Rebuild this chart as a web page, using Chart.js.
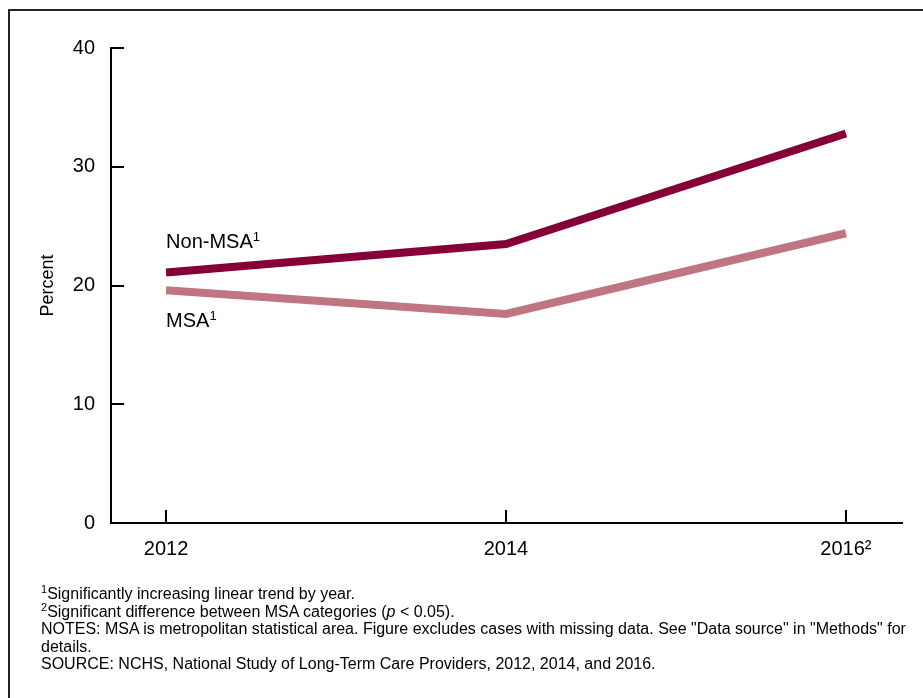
<!DOCTYPE html>
<html>
<head>
<meta charset="utf-8">
<script src="https://cdn.jsdelivr.net/npm/chart.js@4"></script>
<style>
  body { margin: 0; background: #fff; font-family: "Liberation Sans", Arial, sans-serif; }
  #frame { position: absolute; left: 8px; top: 9px; width: 940px; height: 720px;
           border-left: 2px solid #222; border-top: 2px solid #222; }
  #wrap { position: absolute; left: 0; top: 0; width: 923px; height: 698px; }
  #notes { position: absolute; left: 41px; top: 585px; font-size: 16px; line-height: 17.5px; color: #000; }
  #notes sup { font-size: 11px; line-height: 0; }
</style>
</head>
<body>
<div id="frame"></div>
<div id="wrap"><canvas id="lineChart" width="923" height="698"></canvas></div>
<div id="notes">
  <div><sup>1</sup>Significantly increasing linear trend by year.</div>
  <div><sup>2</sup>Significant difference between MSA categories (<i>p</i> &lt; 0.05).</div>
  <div>NOTES: MSA is metropolitan statistical area. Figure excludes cases with missing data. See "Data source" in "Methods" for<br>details.</div>
  <div>SOURCE: NCHS, National Study of Long-Term Care Providers, 2012, 2014, and 2016.</div>
</div>
<script>
const years = [2012, 2014, 2016];
const yearLabels = ["2012", "2014", "2016\u00B2"];
const nonMsa = [21.1, 23.5, 32.8];
const msa = [19.6, 17.6, 24.4];
const yTicks = [0, 10, 20, 30, 40];

const FONT = '"Liberation Sans", Arial, sans-serif';

// tick marks point into the plot, so they are drawn by hand
const innerTicks = {
  id: 'innerTicks',
  beforeDatasetsDraw(chart) {
    const ctx = chart.ctx, x = chart.scales.x, y = chart.scales.y;
    const len = 13;
    ctx.save();
    ctx.strokeStyle = '#000';
    ctx.lineWidth = 2;
    ctx.beginPath();
    years.forEach(v => {
      const px = Math.round(x.getPixelForValue(v));
      ctx.moveTo(px, y.bottom);
      ctx.lineTo(px, y.bottom - len);
    });
    yTicks.forEach(v => {
      if (v === 0) return;
      const py = Math.round(y.getPixelForValue(v));
      ctx.moveTo(x.left, py);
      ctx.lineTo(x.left + len, py);
    });
    ctx.stroke();
    ctx.restore();
  }
};

// series names next to the first point of each line
const seriesLabels = {
  id: 'seriesLabels',
  afterDatasetsDraw(chart) {
    const ctx = chart.ctx, x = chart.scales.x, y = chart.scales.y;
    const px = x.getPixelForValue(years[0]);
    const items = [
      { text: 'Non-MSA', sup: '1', base: y.getPixelForValue(nonMsa[0]) - 24 },
      { text: 'MSA', sup: '1', base: y.getPixelForValue(msa[0]) + 37 }
    ];
    ctx.save();
    ctx.fillStyle = '#000';
    ctx.textBaseline = 'alphabetic';
    items.forEach(it => {
      ctx.font = '20px ' + FONT;
      ctx.fillText(it.text, px, it.base);
      const w = ctx.measureText(it.text).width;
      ctx.font = '13px ' + FONT;
      ctx.fillText(it.sup, px + w, it.base - 7);
    });
    ctx.restore();
  }
};

new Chart(document.getElementById('lineChart'), {
  type: 'line',
  data: {
    datasets: [
      {
        label: 'Non-MSA',
        data: years.map((v, i) => ({ x: v, y: nonMsa[i] })),
        borderColor: '#860038',
        borderWidth: 8,
        pointRadius: 0,
        borderCapStyle: 'butt',
        borderJoinStyle: 'miter'
      },
      {
        label: 'MSA',
        data: years.map((v, i) => ({ x: v, y: msa[i] })),
        borderColor: '#C07682',
        borderWidth: 8,
        pointRadius: 0,
        borderCapStyle: 'butt',
        borderJoinStyle: 'miter'
      }
    ]
  },
  options: {
    responsive: false,
    animation: false,
    layout: { padding: { top: 48, right: 21, left: 0, bottom: 0 } },
    plugins: {
      legend: { display: false },
      tooltip: { enabled: false }
    },
    scales: {
      x: {
        type: 'linear',
        min: 2011.676,
        max: 2016.33,
        afterBuildTicks: s => { s.ticks = years.map(v => ({ value: v })); },
        afterFit: s => { s.height = 175; },
        grid: { display: false, drawTicks: false },
        border: { color: '#000', width: 2 },
        ticks: {
          padding: 14,
          color: '#000',
          font: { size: 20, family: FONT },
          maxRotation: 0,
          callback: v => yearLabels[years.indexOf(v)]
        }
      },
      y: {
        min: 0,
        max: 40,
        afterBuildTicks: s => { s.ticks = yTicks.map(v => ({ value: v })); },
        afterFit: s => { s.width = 111; },
        grid: { display: false, drawTicks: false },
        border: { color: '#000', width: 2 },
        ticks: {
          padding: 16,
          color: '#000',
          font: { size: 20, family: FONT }
        },
        title: {
          display: true,
          text: 'Percent',
          color: '#000',
          font: { size: 18, family: FONT },
          padding: { top: 37, bottom: 0 }
        }
      }
    }
  },
  plugins: [innerTicks, seriesLabels]
});
</script>
</body>
</html>
